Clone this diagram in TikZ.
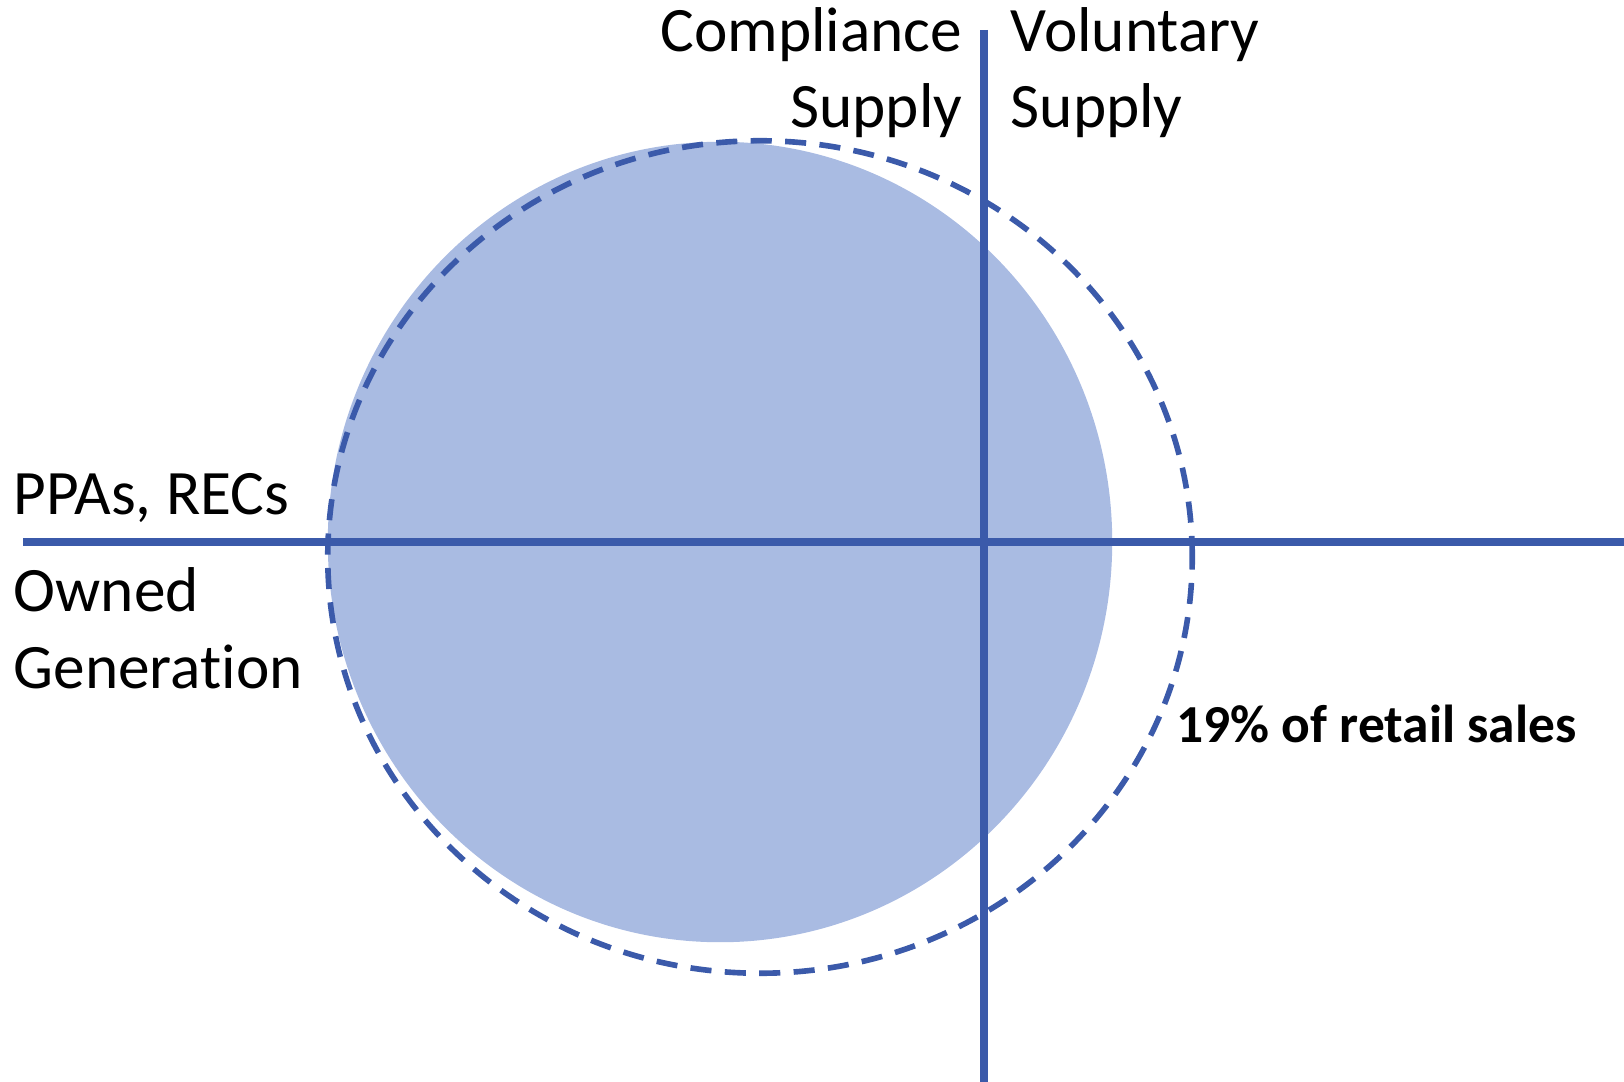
\documentclass[tikz,border=0pt]{standalone}
\usepackage{fontspec}
\setmainfont[Ligatures=NoCommon]{Carlito}
\usetikzlibrary{shapes}

\definecolor{axisblue}{RGB}{59,90,170}
\definecolor{discfill}{RGB}{169,187,226}

\tikzset{
  axisline/.style={draw=axisblue, line width=2pt},
  salesring/.style={draw=axisblue, line width=1.6pt, dash pattern=on 6pt off 3.8pt},
  quadtext/.style={inner sep=0pt, font=\fontsize{18}{21}\selectfont},
  salestext/.style={inner sep=0pt, font=\fontsize{15.2}{18}\selectfont\bfseries}
}

\begin{document}
\begin{tikzpicture}[x=0.01cm, y=-0.01cm]
\useasboundingbox (0,0) rectangle (1624,1082);

% supply disc
\fill [discfill] (720,542) ellipse [x radius=3.92cm, y radius=4cm];

% axes
\coordinate (west) at (23,542);
\coordinate (east) at (1624,542);
\coordinate (north) at (984,30);
\coordinate (south) at (984,1082);
\draw [axisline] (west) -- (east);
\draw [axisline] (north) -- (south);

% retail sales ring
\draw [salesring] (760,557) ellipse [x radius=4.32cm, y radius=4.16cm];

% quadrant labels
\node [quadtext, anchor=base east] (comp) at (963,52) {Compliance};
\node [quadtext, anchor=base east] (compsup) at (963,128) {Supply};
\node [quadtext, anchor=base west] (vol) at (1010,52) {Voluntary};
\node [quadtext, anchor=base west] (volsup) at (1010,128) {Supply};
\node [quadtext, anchor=base west] (ppa) at (13,514) {PPAs, RECs};
\node [quadtext, anchor=base west] (own) at (13,611) {Owned};
\node [quadtext, anchor=base west] (gen) at (13,688) {Generation};
\node [salestext, anchor=base west] (sales) at (1176,742) {19\% of retail sales};
\end{tikzpicture}
\end{document}
